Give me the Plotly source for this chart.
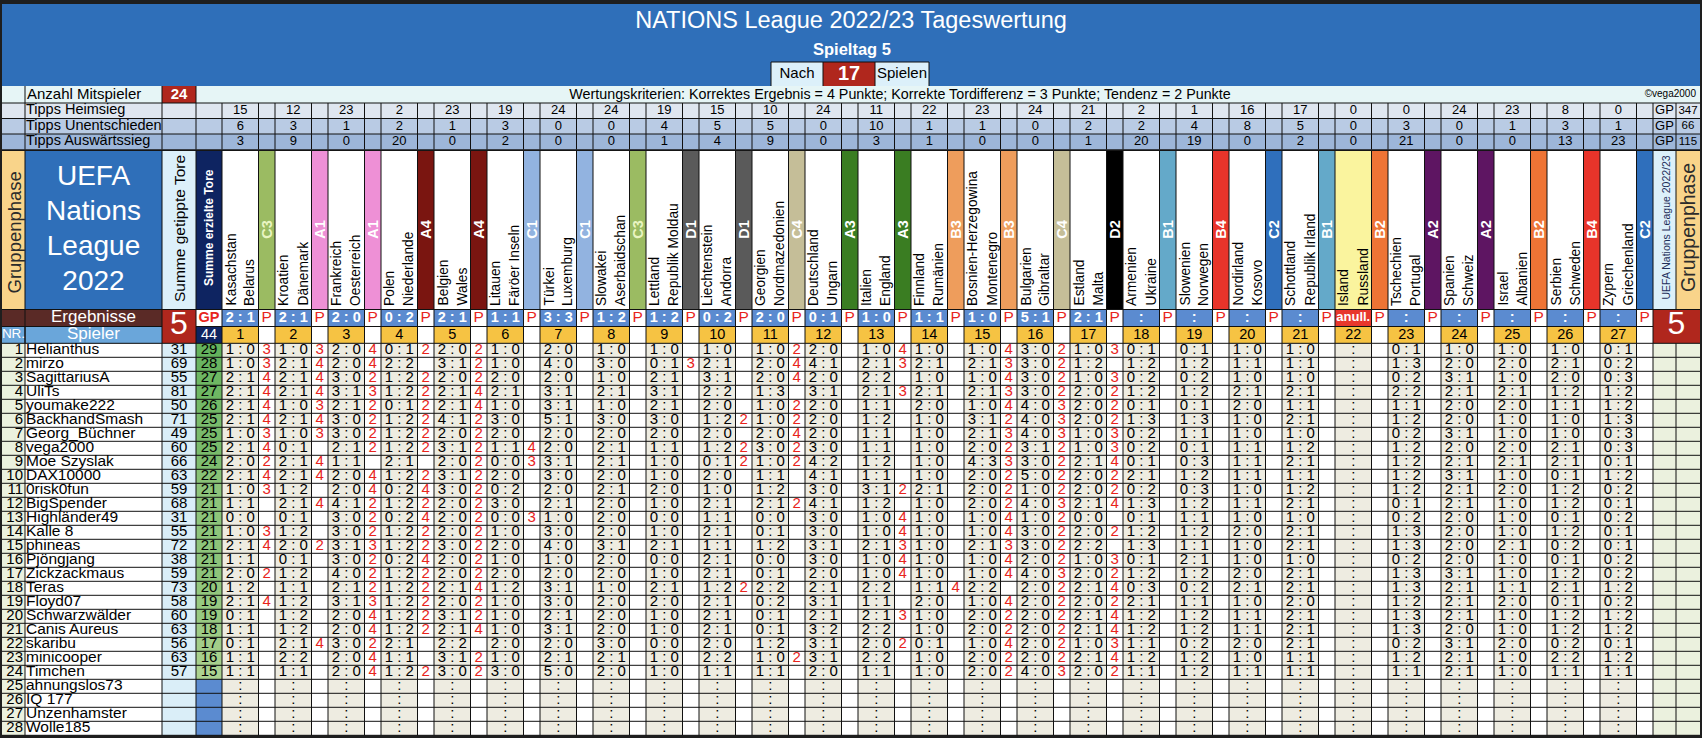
import plotly.graph_objects as go

W, H = 1702, 738
FONT = "Liberation Sans, Arial, sans-serif"

# ---------------- data ----------------
home_teams = ["Kasachstan", "Kroatien", "Frankreich", "Polen", "Belgien", "Litauen", "Türkei",
              "Slowakei", "Lettland", "Liechtenstein", "Georgien", "Deutschland", "Italien",
              "Finnland", "Bosnien-Herzegowina", "Bulgarien", "Estland", "Armenien", "Slowenien",
              "Nordirland", "Schottland", "Island", "Tschechien", "Spanien", "Israel", "Serbien", "Zypern"]
away_teams = ["Belarus", "Dänemark", "Oesterreich", "Niederlande", "Wales", "Färöer Inseln", "Luxemburg",
              "Aserbaidschan", "Republik Moldau", "Andorra", "Nordmazedonien", "Ungarn", "England",
              "Rumänien", "Montenegro", "Gibraltar", "Malta", "Ukraine", "Norwegen", "Kosovo",
              "Republik Irland", "Russland", "Portugal", "Schweiz", "Albanien", "Schweden", "Griechenland"]
groups = ["C3", "A1", "A1", "A4", "A4", "C1", "C1", "C3", "D1", "D1", "C4", "A3", "A3", "B3",
          "B3", "C4", "D2", "B1", "B4", "C2", "B1", "B2", "A2", "A2", "B2", "B4", "C2"]
results = ["2:1", "2:1", "2:0", "0:2", "2:1", "1:1", "3:3", "1:2", "1:2", "0:2", "2:0", "0:1", "1:0",
           "1:1", "1:0", "5:1", "2:1", ":", ":", ":", ":", "anull.", ":", ":", ":", ":", ":"]
tipps_home = [15, 12, 23, 2, 23, 19, 24, 24, 19, 15, 10, 24, 11, 22, 23, 24, 21, 2, 1, 16, 17, 0, 0, 24, 23, 8, 0]
tipps_draw = [6, 3, 1, 2, 1, 3, 0, 0, 4, 5, 5, 0, 10, 1, 1, 0, 2, 2, 4, 8, 5, 0, 3, 0, 1, 3, 1]
tipps_away = [3, 9, 0, 20, 0, 2, 0, 0, 1, 4, 9, 0, 3, 1, 0, 0, 1, 20, 19, 0, 2, 0, 21, 0, 0, 13, 23]
tipps_gp = [347, 66, 115]
tipps_labels = ["Tipps Heimsieg", "Tipps Unentschieden", "Tipps Auswärtssieg"]

players = ["Helianthus", "mirzo", "SagittariusA", "UliTs", "youmake222", "BackhandSmash",
           "Georg_Büchner", "vega2000", "Moe Szyslak", "DAX10000", "0risk0fun", "BigSpender",
           "Highländer49", "Kalle 8", "phineas", "Pjöngjang", "Zickzackmaus", "Teras", "Floyd07",
           "Schwarzwälder", "Canis Aureus", "skaribu", "minicooper", "Timchen",
           "ahnungslos73", "IQ 177", "Unzenhamster", "Wolle185"]
tipped_goals = [31, 69, 55, 81, 50, 71, 49, 60, 66, 63, 59, 68, 31, 55, 72, 38, 59, 73, 58, 60, 63, 56, 63, 57]
day_points = [29, 28, 27, 27, 26, 25, 25, 25, 24, 22, 21, 21, 21, 21, 21, 21, 21, 20, 19, 19, 18, 17, 16, 15]
goals_scored = 44

predictions = [
    "1:0 1:0 2:0 0:1 2:0 1:0 2:0 1:0 1:0 1:0 1:0 2:0 1:0 1:0 1:0 3:0 1:0 0:1 0:1 1:0 1:0 : 0:1 1:0 1:0 1:0 0:1",
    "1:0 2:1 2:0 2:2 3:1 1:0 4:0 3:0 0:1 2:1 2:0 4:1 2:1 2:1 2:1 3:0 1:2 1:2 1:2 1:1 1:1 : 1:3 2:0 2:0 2:1 0:2",
    "2:1 2:1 3:0 1:2 2:0 2:0 2:0 1:0 2:1 3:1 2:0 2:0 2:2 1:0 1:0 3:0 1:0 0:2 0:2 1:0 1:0 : 0:2 3:1 1:0 2:0 0:3",
    "2:1 2:1 3:1 1:2 2:1 2:1 3:1 2:1 3:1 2:2 1:3 3:1 2:1 2:1 2:1 3:0 2:0 1:2 1:2 2:1 2:1 : 2:2 2:1 2:1 1:2 1:2",
    "2:1 1:0 2:1 0:1 2:1 1:0 3:1 1:0 2:1 2:0 1:0 2:0 1:1 2:0 1:0 4:0 2:0 0:1 0:1 2:0 1:1 : 1:1 2:0 2:0 1:1 1:2",
    "2:1 2:1 3:0 1:2 4:1 3:0 5:1 3:0 3:0 1:2 1:0 2:0 1:2 1:0 3:1 4:0 2:0 1:3 1:3 1:0 2:1 : 1:2 2:0 1:0 1:0 1:3",
    "1:0 1:0 3:0 1:2 2:0 2:0 2:0 2:0 2:0 2:0 2:0 2:0 1:1 1:0 2:1 4:0 1:0 0:2 1:1 1:0 1:0 : 0:2 3:1 1:0 1:0 0:3",
    "2:1 0:1 2:1 1:2 3:1 1:1 2:0 2:1 1:1 1:2 3:0 3:0 1:1 1:0 2:0 3:1 1:0 0:2 0:1 1:1 1:2 : 1:2 2:0 2:0 2:1 0:3",
    "2:0 2:1 1:1 2:1 2:0 0:0 3:1 2:1 1:0 0:1 1:0 4:2 1:2 1:0 4:3 3:0 2:1 0:1 0:3 1:1 2:1 : 1:2 2:1 2:1 2:1 0:1",
    "2:1 2:1 2:0 1:2 3:1 2:0 3:0 2:0 1:0 2:0 1:1 4:1 1:1 1:0 2:0 5:0 2:0 2:1 1:2 1:1 1:1 : 1:2 3:1 1:0 0:1 1:2",
    "1:0 1:2 2:0 0:2 3:0 0:2 2:0 2:1 2:0 1:0 1:2 3:0 3:1 2:1 2:0 1:0 2:0 0:2 0:3 1:0 1:2 : 1:2 2:1 2:0 1:2 0:2",
    "1:1 2:1 4:1 1:2 2:0 3:0 2:1 2:0 1:0 2:1 2:1 4:1 1:2 1:0 2:0 4:0 2:1 1:3 1:2 1:1 2:1 : 0:1 2:1 1:0 1:2 0:1",
    "0:0 0:1 3:0 0:2 2:0 0:0 1:0 2:0 0:0 1:1 0:0 3:0 1:0 1:0 1:0 1:0 0:0 0:1 1:1 1:0 1:0 : 0:2 2:0 1:0 0:1 0:2",
    "1:0 1:2 3:0 1:2 2:0 1:0 3:0 2:0 1:0 2:1 0:1 3:0 1:0 1:0 1:0 3:0 2:0 1:2 1:2 2:0 2:1 : 1:3 2:0 1:0 1:2 0:1",
    "2:1 2:0 3:1 1:2 3:0 2:0 4:0 3:1 2:1 1:1 1:2 3:1 2:1 1:0 2:1 3:0 2:2 1:3 1:1 1:0 2:1 : 1:3 2:0 2:1 0:2 0:1",
    "1:1 0:1 3:0 0:2 2:0 1:0 1:0 2:0 0:0 2:1 0:0 3:0 1:0 1:0 1:0 2:0 1:0 0:1 2:1 1:0 1:0 : 0:2 2:0 1:0 0:1 0:2",
    "2:0 1:2 4:0 1:2 2:0 2:0 2:0 2:0 1:0 2:1 0:1 2:0 1:0 1:0 1:0 4:0 2:0 1:2 1:2 2:0 2:1 : 1:3 3:1 1:0 1:2 0:2",
    "1:2 1:1 2:1 1:2 2:1 1:2 3:1 1:0 2:1 1:2 2:2 2:1 2:2 1:1 2:2 2:0 2:1 0:3 0:2 2:1 2:1 : 1:3 2:1 1:1 2:1 1:2",
    "2:1 1:2 3:1 1:2 2:0 1:0 3:0 2:0 2:0 2:1 0:2 3:1 1:1 2:0 1:0 2:0 2:0 2:1 1:1 1:0 2:0 : 1:2 2:1 2:0 0:1 0:2",
    "0:1 1:2 2:0 1:2 3:1 1:0 2:1 2:0 1:0 2:1 0:1 2:1 2:1 1:0 2:0 2:0 2:1 1:2 1:2 1:1 2:1 : 1:3 2:1 1:0 1:2 1:2",
    "1:1 1:2 2:0 1:2 2:1 1:0 3:1 2:0 1:0 2:1 0:1 3:2 2:2 1:0 2:0 2:0 2:1 1:2 1:2 1:1 2:1 : 1:3 2:0 1:0 1:2 1:2",
    "0:1 2:1 3:0 2:1 2:2 2:0 2:0 3:0 0:0 2:0 1:2 3:1 2:0 0:1 1:0 2:0 1:0 1:1 0:2 2:0 2:1 : 0:2 3:1 2:0 0:2 0:1",
    "1:1 2:2 2:0 1:1 3:1 1:0 2:1 2:1 1:0 2:2 1:0 3:1 2:2 1:0 2:0 2:0 2:1 1:2 1:2 1:0 1:1 : 1:2 2:1 1:0 2:2 1:2",
    "1:1 1:1 2:0 1:2 3:0 3:0 5:0 2:0 1:0 1:1 1:1 2:0 1:1 1:0 2:0 4:0 2:0 1:1 1:2 1:1 1:1 : 1:1 2:1 1:0 1:1 1:1",
]
# points per match (matches 1-17), "." = no points
match_points = [
    "3 3 4 2 2 . . . . . 2 . 4 . 4 2 3",
    "3 4 4 . 2 . . . 3 . 4 . 3 . 3 2 .",
    "4 4 2 2 2 . . . . . 4 . . . 4 2 3",
    "4 4 3 2 4 . . . . . . . 3 . 3 2 2",
    "4 3 2 2 4 . . . . . 2 . . . 4 3 2",
    "4 4 2 2 2 . . . . 2 2 . . . 2 3 2",
    "3 3 2 2 2 . . . . . 4 . . . 3 3 3",
    "4 . 2 2 2 4 . . . 2 2 . . . 2 2 3",
    "2 4 . . 2 3 . . . 2 2 . . . 3 2 4",
    "4 4 4 2 2 . . . . . . . . . 2 2 2",
    "3 . 4 4 2 . . . . . . . 2 . 2 2 2",
    ". 4 2 2 2 . . . . . 2 . . . 2 3 4",
    ". . 2 4 2 3 . . . . . . 4 . 4 2 .",
    "3 . 2 2 2 . . . . . . . 4 . 4 2 2",
    "4 2 3 2 2 . . . . . . . 3 . 3 2 .",
    ". . 2 4 2 . . . . . . . 4 . 4 2 3",
    "2 . 2 2 2 . . . . . . . 4 . 4 3 2",
    ". . 2 2 4 . . . . 2 . . . 4 . 2 4",
    "4 . 3 2 2 . . . . . . . . . 4 2 2",
    ". . 4 2 2 . . . . . . . 3 . 2 2 4",
    ". . 4 2 4 . . . . . . . . . 2 2 4",
    ". 4 2 . . . . . . . . . 2 . 4 2 3",
    ". . 4 . 2 . . . . . 2 . . . 2 2 4",
    ". . 4 2 2 . . . . . . . . . 2 3 2",
]

# ---------------- styles ----------------
BLUE = "#2f6fb9"
RED = "#b0271d"
PRED_RED = "#e8241c"
LIGHT = "#e6f5f6"
CYAN = "#dcf0fa"
ORANGE = "#f9d48a"
NAVY = "#0e2461"
RES_BLUE = "#5b8bd0"
GOLD = "#f6c343"
CELL = "#eeece1"
NRBG = "#ebf1de"
SPL_BLUE = "#6aa6da"
BROWN = "#5a2a26"
TIPS_BG = ["#dfe6f0", "#b9cbe4", "#9db6d9"]
group_colors = {"A1": "#ee90d6", "A2": "#5e1562", "A3": "#3a7d22", "A4": "#7a1510",
                "B1": "#64a9c9", "B2": "#ee7435", "B3": "#ee9d5c", "B4": "#e8342a",
                "C1": "#92b3e0", "C2": "#2f6fbc", "C3": "#9bbb62", "C4": "#c5be98",
                "D1": "#5a5a5a", "D2": "#000000"}

# ---------------- geometry (pixels, top-down) ----------------
X0, X_NAME, X_TIP, X_GP, X_M = 2, 25, 162, 196, 222
MW, RW = 53.0, 36.5
X_F1 = X_M + 27 * MW
X_F2, X1 = 1676, 1700
Y_TOP, Y_ANZ = 4, 86
Y_TIPS = [103, 118.5, 134, 149.5]
Y_HDR, Y_ERG, Y_SPL, Y_ROW = 151, 309.5, 326.5, 343.3
RH = 14.0
Y_END = Y_ROW + RH * len(players)

mx = [X_M + MW * k for k in range(27)]
rcx = [x + RW / 2 for x in mx]
pcx = [x + RW + (MW - RW) / 2 for x in mx]
col_edges = [X_NAME, X_TIP, X_GP] + [e for x in mx for e in (x, x + RW)] + [X_F1, X_F2]

fills = {}
def box(c, x0, x1, y0, y1):
    fills.setdefault(c, []).append(f"M{x0:.1f},{H - y0:.1f}H{x1:.1f}V{H - y1:.1f}H{x0:.1f}Z")

segs = []
def hl(x0, x1, y):
    segs.append(f"M{x0:.1f},{H - y:.1f}H{x1:.1f}")
def vl(x, y0, y1):
    segs.append(f"M{x:.1f},{H - y0:.1f}V{H - y1:.1f}")

labels = {}
def txt(x, y, s, size=14, color="black", pos="middle center"):
    d = labels.setdefault((size, color, pos), [[], [], []])
    d[0].append(x); d[1].append(H - y); d[2].append(s)

notes = []
def vtxt(x, y, s, size, color="black", yanchor="middle"):
    notes.append(dict(x=x, y=H - y, text=s, textangle=-90, showarrow=False,
                      xanchor="center", yanchor=yanchor,
                      font=dict(family=FONT, size=size, color=color)))

def score(s):
    return s.replace(":", " : ") if s != ":" else ":"

# ---- title band ----
box(BLUE, X0, X1, Y_TOP, Y_ANZ)
txt(851, 22, "NATIONS League 2022/23 Tageswertung", 23.5, "white")
txt(852, 51, "<b>Spieltag 5</b>", 16.5, "white")
box(CYAN, 771, 823, 62, Y_ANZ)
box(RED, 823, 875, 62, Y_ANZ)
box(CYAN, 875, 929, 62, Y_ANZ)
for x in (771, 823, 875, 929):
    vl(x, 62, Y_ANZ)
hl(771, 929, 62)
txt(797, 74.5, "Nach", 15)
txt(849, 74.5, "<b>17</b>", 20, "white")
txt(902, 74.5, "Spielen", 15)

# ---- Anzahl row ----
box(LIGHT, X0, X_TIP, Y_ANZ, Y_TIPS[0])
box(LIGHT, X_GP, X1, Y_ANZ, Y_TIPS[0])
box(RED, X_TIP, X_GP, Y_ANZ, Y_TIPS[0])
for x in (X_NAME, X_TIP, X_GP):
    vl(x, Y_ANZ, Y_TIPS[0])
txt(27, 95, "Anzahl Mitspieler", 15, pos="middle right")
txt((X_TIP + X_GP) / 2, 95, f"<b>{len(day_points)}</b>", 15, "white")
txt(900, 95, "Wertungskriterien: Korrektes Ergebnis = 4 Punkte; Korrekte Tordifferenz = 3 Punkte; "
             "Tendenz = 2 Punkte", 14.3)
txt(1696, 94, "©vega2000", 10, pos="middle left")

# ---- Tipps rows ----
tipps = [tipps_home, tipps_draw, tipps_away]
for i in range(3):
    y0, y1 = Y_TIPS[i], Y_TIPS[i + 1]
    yc = (y0 + y1) / 2
    box(TIPS_BG[i], X0, X1, y0, y1)
    hl(X0, X1, y0)
    for x in col_edges:
        vl(x, y0, y1)
    txt(26, yc, tipps_labels[i], 14.5, pos="middle right")
    for k in range(27):
        txt(rcx[k], yc, str(tipps[i][k]), 13)
    txt((X_F1 + X_F2) / 2, yc, "GP", 13)
    txt((X_F2 + X1) / 2, yc, str(tipps_gp[i]), 11.5)
box("#151515", X0, X1, Y_TIPS[3], Y_HDR)

# ---- header with team names ----
box(ORANGE, X0, X_NAME, Y_HDR, Y_ERG)
box(BLUE, X_NAME, X_TIP, Y_HDR, Y_ERG)
box(CYAN, X_TIP, X_GP, Y_HDR, Y_ERG)
box(NAVY, X_GP, X_M, Y_HDR, Y_ERG)
vtxt((X0 + X_NAME) / 2, 233, "Gruppenphase", 18.5, "#2b2b2b")
for j, line in enumerate(["UEFA", "Nations", "League", "2022"]):
    txt((X_NAME + X_TIP) / 2, 178 + 35 * j, line, 28, "white")
vtxt((X_TIP + X_GP) / 2, 229, "Summe getippte Tore", 15.5)
vtxt((X_GP + X_M) / 2, 228, "<b>Summe erzielte Tore</b>", 12, "white")
for k in range(27):
    box("#faf49e" if results[k] == "anull." else "white", mx[k], mx[k] + RW, Y_HDR, Y_ERG)
    g = groups[k]
    box(group_colors[g], mx[k] + RW, mx[k] + MW, Y_HDR, Y_ERG)
    vtxt(mx[k] + 8.5, 308, home_teams[k], 13.8, yanchor="bottom")
    vtxt(mx[k] + 27.5, 308, away_teams[k], 13.8, yanchor="bottom")
    vtxt(pcx[k], 229, f"<b>{g}</b>", 14.5, "#eaf5c2" if g == "C3" else "white")
box(CYAN, X_F1, X_F2, Y_HDR, Y_ERG)
box(ORANGE, X_F2, X1, Y_HDR, Y_ERG)
vtxt((X_F1 + X_F2) / 2 + 1, 228, "UEFA Nations League 2022/23", 10.5, "#1f2f5a")
vtxt((X_F2 + X1) / 2, 228, "Gruppenphase", 19.5, "#2b2b2b")
for x in col_edges:
    vl(x, Y_HDR, Y_ERG)

# ---- Ergebnisse / Spieler rows ----
box(BROWN, X0, X_TIP, Y_ERG, Y_SPL)
box(SPL_BLUE, X0, X_TIP, Y_SPL, Y_ROW)
box(RED, X_TIP, X_GP, Y_ERG, Y_ROW)
box("white", X_GP, X_M, Y_ERG, Y_SPL)
box(NAVY, X_GP, X_M, Y_SPL, Y_ROW)
box(RED, X_F1, X1, Y_ERG, Y_ROW)
ye, ys = (Y_ERG + Y_SPL) / 2, (Y_SPL + Y_ROW) / 2
txt((X_NAME + X_TIP) / 2, ye, "Ergebnisse", 17, "white")
txt((X0 + X_NAME) / 2, ys, "NR.", 13.5, "white")
txt((X_NAME + X_TIP) / 2, ys, "Spieler", 17, "white")
txt((X_TIP + X_GP) / 2, (Y_ERG + Y_ROW) / 2, "5", 32, "white")
txt((X_F1 + X1) / 2, (Y_ERG + Y_ROW) / 2, "5", 32, "white")
txt((X_GP + X_M) / 2, ye, "<b>GP</b>", 14.5, PRED_RED)
txt((X_GP + X_M) / 2, ys, str(goals_scored), 14.5, "white")
for k in range(27):
    anull = results[k] == "anull."
    box("#e8372c" if anull else RES_BLUE, mx[k], mx[k] + RW, Y_ERG, Y_SPL)
    box("white", mx[k] + RW, mx[k] + MW, Y_ERG, Y_ROW)
    box(GOLD, mx[k], mx[k] + RW, Y_SPL, Y_ROW)
    label = "anull." if anull else score(results[k])
    txt(rcx[k], ye, f"<b>{label}</b>", 13 if anull else 14.5, "white")
    txt(pcx[k], ye, "P", 15.5, PRED_RED)
    txt(rcx[k], ys, str(k + 1), 14.5)
hl(X0, X_TIP, Y_SPL)
hl(X_GP, X_F1, Y_SPL)
hl(X0, X1, Y_ERG)
vl(X_NAME, Y_SPL, Y_ROW)
for x in col_edges:
    if x != X_F2:
        vl(x, Y_ERG, Y_ROW)

# ---- player rows ----
def earned_color(v):
    t = (v - 15) / (29 - 15)
    a, b = (172, 210, 144), (100, 178, 92)
    return "rgb(%d,%d,%d)" % tuple(round(a[i] + (b[i] - a[i]) * t) for i in range(3))

for i, name in enumerate(players):
    y0 = Y_ROW + RH * i
    y1 = y0 + RH
    yc = (y0 + y1) / 2
    box(NRBG, X0, X_NAME, y0, y1)
    box("white", X_NAME, X_TIP, y0, y1)
    box("#daeef8", X_TIP, X_GP, y0, y1)
    box(NRBG, X_F1, X1, y0, y1)
    txt(23, yc, str(i + 1), 15, pos="middle left")
    txt(26, yc, name, 15.5, pos="middle right")
    if i < len(predictions):
        box(earned_color(day_points[i]), X_GP, X_M, y0, y1)
        txt((X_TIP + X_GP) / 2, yc, str(tipped_goals[i]), 15)
        txt((X_GP + X_M) / 2, yc, str(day_points[i]), 15)
        tips = predictions[i].split()
        pts = match_points[i].split()
    else:
        box(RES_BLUE, X_GP, X_M, y0, y1)
        tips = [":"] * 27
        pts = []
    for k in range(27):
        box(CELL, mx[k], mx[k] + RW, y0, y1)
        box("white", mx[k] + RW, mx[k] + MW, y0, y1)
        txt(rcx[k], yc, score(tips[k]), 15)
        if k < len(pts) and pts[k] != ".":
            txt(pcx[k], yc, pts[k], 15, PRED_RED)
    hl(X0, X1, y0)
hl(X0, X1, Y_END)
for x in col_edges:
    vl(x, Y_ROW, Y_END)

# ---------------- figure ----------------
fig = go.Figure()
for (size, color, pos), (xs, ys_, ts) in labels.items():
    fig.add_trace(go.Scatter(x=xs, y=ys_, text=ts, mode="text", textposition=pos,
                             textfont=dict(family=FONT, size=size, color=color),
                             hoverinfo="skip", showlegend=False, cliponaxis=False))

shapes = []
for c, parts in fills.items():
    shapes.append(dict(type="path", path="".join(parts), fillcolor=c, line=dict(width=0), layer="below"))
shapes.append(dict(type="path", path="".join(segs), line=dict(color="#111111", width=1), layer="below"))

fig.update_layout(
    width=W, height=H,
    margin=dict(l=0, r=0, t=0, b=0),
    paper_bgcolor="#1e1e1e", plot_bgcolor="#1e1e1e",
    xaxis=dict(range=[0, W], visible=False, fixedrange=True),
    yaxis=dict(range=[0, H], visible=False, fixedrange=True),
    shapes=shapes, annotations=notes,
    font=dict(family=FONT),
)

fig.write_html("out.html", config={"displayModeBar": False},
               post_script="document.body.style.margin='0';document.body.style.overflow='hidden';")
